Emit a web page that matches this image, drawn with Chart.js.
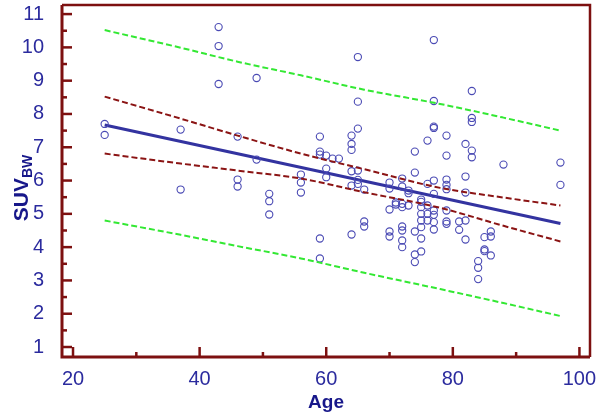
<!DOCTYPE html>
<html lang="en">
<head>
  <meta charset="UTF-8">
  <title>SUV vs Age</title>
  <style>
    body {
      margin: 0;
      background: #ffffff;
    }
    #chartContainer {
      width: 600px;
      height: 416px;
    }
  </style>
</head>
<body>
  <div id="chartContainer">
    <canvas id="suvChart" width="600" height="416"></canvas>
  </div>

  <script src="https://cdn.jsdelivr.net/npm/chart.js"></script>
  <script>
    // scatter points (age, SUV_BW)
    const ages = [
      25, 25, 37, 37, 43, 43, 43, 46, 46, 46, 49, 49, 51, 51, 51, 56, 56, 56,
      59, 59, 59, 59, 59, 60, 60, 60, 61, 62,
      64, 64, 64, 64, 64, 64, 65, 65, 65, 65, 65, 65, 66, 66, 66,
      70, 70, 70, 70, 70, 71, 71,
      72, 72, 72, 72, 72, 72, 72, 72, 73, 73, 73,
      74, 74, 74, 74, 74, 75, 75, 75, 75, 75, 75, 75, 75,
      76, 76, 76, 76, 76, 77, 77, 77, 77, 77, 77, 77, 77, 77, 77,
      79, 79, 79, 79, 79, 79, 79, 79, 81, 81, 82, 82, 82, 82, 82,
      83, 83, 83, 83, 83, 84, 84, 84, 85, 85, 85, 86, 86, 86, 88, 97, 97
    ];
    const suv = [
      7.70, 7.37, 7.53, 5.73, 10.61, 10.04, 8.90, 7.32, 6.03, 5.82, 9.08, 6.63, 5.60, 5.38, 4.98, 6.18, 5.94, 5.64,
      7.32, 6.87, 6.78, 4.26, 3.66, 6.75, 6.36, 6.10, 6.66, 6.66,
      7.35, 7.10, 6.92, 6.28, 5.85, 4.38, 9.71, 8.37, 7.56, 6.30, 6.02, 5.90, 5.73, 4.77, 4.62,
      5.94, 5.76, 5.13, 4.47, 4.32, 5.34, 5.28,
      6.06, 5.82, 5.30, 5.20, 4.62, 4.50, 4.20, 4.00, 5.70, 5.62, 5.25,
      6.87, 6.24, 4.47, 3.78, 3.55, 5.43, 5.36, 5.20, 5.00, 4.80, 4.60, 4.26, 3.87,
      7.20, 5.90, 5.25, 5.00, 4.80, 10.22, 8.39, 7.62, 7.58, 6.00, 5.60, 5.10, 4.97, 4.75, 4.53,
      7.35, 6.75, 6.03, 5.87, 5.74, 5.10, 4.77, 4.70, 4.77, 4.52, 7.10, 6.12, 5.64, 4.80, 4.23,
      8.69, 7.88, 7.76, 6.90, 6.70, 3.58, 3.38, 3.04, 4.30, 3.93, 3.88, 4.47, 4.32, 3.75, 6.48, 6.54, 5.87
    ];

    // regression line end points
    const fitAge = [25, 97];
    const fitSuv = [7.67, 4.71];

    // confidence / prediction bands
    const bandAge = [25, 37, 46, 56, 66, 78, 88, 97];
    const ciUpper = [8.52, 7.86, 7.35, 6.81, 6.34, 5.78, 5.49, 5.25];
    const ciLower = [6.81, 6.51, 6.30, 6.06, 5.65, 5.18, 4.64, 4.17];
    const piUpper = [10.52, 9.99, 9.57, 9.16, 8.73, 8.30, 7.89, 7.50];
    const piLower = [4.80, 4.37, 4.03, 3.66, 3.23, 2.74, 2.32, 1.93];

    const xTicks = [20, 40, 60, 80, 100];
    const yTicks = [1, 2, 3, 4, 5, 6, 7, 8, 9, 10, 11];

    const axisColor = '#7d1010';
    const labelColor = '#2b2b9e';
    const titleColor = '#17178a';
    const fontFamily = 'Arial, "Liberation Sans", sans-serif';

    function pairs(xs, ys) {
      return xs.map((x, i) => ({ x: x, y: ys[i] }));
    }

    function bandDataset(ys, color) {
      return {
        type: 'line',
        data: pairs(bandAge, ys),
        borderColor: color,
        borderWidth: 2,
        borderDash: [6, 3],
        pointRadius: 0,
        fill: false,
        cubicInterpolationMode: 'monotone'
      };
    }

    // frame, inward ticks and axis titles
    const framePlugin = {
      id: 'frame',
      afterDraw(chart) {
        const ctx = chart.ctx;
        const area = chart.chartArea;
        const xs = chart.scales.x;
        const ys = chart.scales.y;
        ctx.save();
        ctx.strokeStyle = axisColor;

        // top and right border
        ctx.lineWidth = 2.5;
        ctx.beginPath();
        ctx.moveTo(area.left, area.top);
        ctx.lineTo(area.right, area.top);
        ctx.lineTo(area.right, area.bottom);
        ctx.stroke();

        // left and bottom axis
        ctx.lineWidth = 3;
        ctx.beginPath();
        ctx.moveTo(area.left, area.top);
        ctx.lineTo(area.left, area.bottom);
        ctx.lineTo(area.right, area.bottom);
        ctx.stroke();

        // x ticks
        ctx.lineWidth = 2.5;
        for (let v = 20; v <= 100; v += 10) {
          const px = xs.getPixelForValue(v);
          const len = v % 20 === 0 ? 10 : 5;
          ctx.beginPath();
          ctx.moveTo(px, area.bottom);
          ctx.lineTo(px, area.bottom - len);
          ctx.stroke();
        }
        // y ticks
        for (let v = 1; v <= 11; v += 0.5) {
          const py = ys.getPixelForValue(v);
          const len = Number.isInteger(v) ? 10 : 5;
          ctx.beginPath();
          ctx.moveTo(area.left, py);
          ctx.lineTo(area.left + len, py);
          ctx.stroke();
        }

        // axis titles
        ctx.fillStyle = titleColor;
        ctx.font = 'bold 19px ' + fontFamily;
        ctx.textAlign = 'center';
        ctx.textBaseline = 'alphabetic';
        ctx.fillText('Age', (area.left + area.right) / 2, 408);

        ctx.translate(30, 188);
        ctx.rotate(-Math.PI / 2);
        ctx.textAlign = 'left';
        ctx.font = 'bold 21px ' + fontFamily;
        const w1 = ctx.measureText('SUV').width;
        ctx.font = 'bold 14px ' + fontFamily;
        const w2 = ctx.measureText('BW').width;
        const start = -(w1 + w2) / 2;
        ctx.font = 'bold 21px ' + fontFamily;
        ctx.fillText('SUV', start, -2);
        ctx.font = 'bold 14px ' + fontFamily;
        ctx.fillText('BW', start + w1, 2);
        ctx.restore();
      }
    };

    const ctx = document.getElementById('suvChart').getContext('2d');
    new Chart(ctx, {
      type: 'scatter',
      data: {
        datasets: [
          bandDataset(piUpper, '#33e833'),
          bandDataset(piLower, '#33e833'),
          bandDataset(ciUpper, '#8b1414'),
          bandDataset(ciLower, '#8b1414'),
          {
            data: pairs(ages, suv),
            pointStyle: 'circle',
            pointRadius: 3.6,
            borderColor: '#4a4ab4',
            backgroundColor: 'rgba(0,0,0,0)',
            borderWidth: 1.1,
            showLine: false
          },
          {
            type: 'line',
            data: pairs(fitAge, fitSuv),
            borderColor: '#3333a0',
            borderWidth: 3,
            pointRadius: 0,
            fill: false
          }
        ]
      },
      options: {
        responsive: false,
        animation: false,
        devicePixelRatio: 1,
        layout: {
          padding: { left: 0, right: 10, top: 4, bottom: 0 }
        },
        plugins: {
          legend: { display: false },
          tooltip: { enabled: false }
        },
        scales: {
          x: {
            type: 'linear',
            min: 18.26,
            max: 101.67,
            afterBuildTicks: scale => { scale.ticks = xTicks.map(v => ({ value: v })); },
            afterFit: scale => {
              scale.height = 59;
              scale.paddingLeft = 0;
              scale.paddingRight = 0;
            },
            grid: { display: false },
            border: { display: false },
            ticks: {
              color: labelColor,
              padding: 2,
              maxRotation: 0,
              font: { family: fontFamily, size: 20 }
            }
          },
          y: {
            type: 'linear',
            min: 0.7,
            max: 11.27,
            afterBuildTicks: scale => { scale.ticks = yTicks.map(v => ({ value: v })); },
            afterFit: scale => {
              scale.width = 62;
              scale.paddingTop = 0;
              scale.paddingBottom = 0;
            },
            grid: { display: false },
            border: { display: false },
            ticks: {
              color: labelColor,
              padding: 10,
              font: { family: fontFamily, size: 20 }
            }
          }
        }
      },
      plugins: [framePlugin]
    });
  </script>
</body>
</html>
